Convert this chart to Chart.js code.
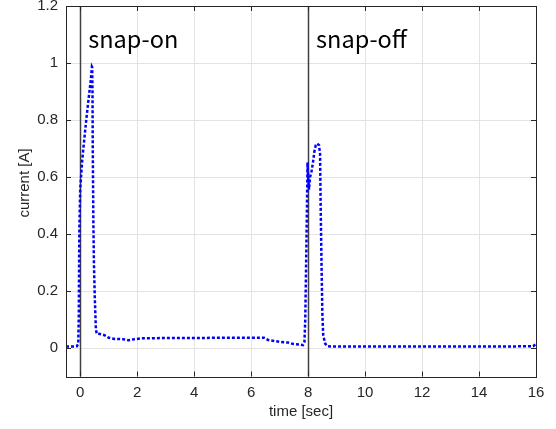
<!DOCTYPE html>
<html>
<head>
<meta charset="utf-8">
<script src="https://cdn.jsdelivr.net/npm/chart.js@4.4.1/dist/chart.umd.min.js"></script>
<style>
  html, body { margin: 0; padding: 0; background: #ffffff; }
  #wrap { width: 556px; height: 429px; }
</style>
</head>
<body>
<div id="wrap"><canvas id="currentChart" width="556" height="429"></canvas></div>
<script>
// measured current during snap-on / snap-off
const timeSec = [
  -0.5, -0.3, -0.12, -0.07, -0.05, -0.04, -0.03, 0.0, 0.07, 0.14, 0.21, 0.3, 0.37, 0.41,
  0.42, 0.43, 0.44, 0.46, 0.48, 0.51, 0.55, 0.58, 0.7, 0.85, 1.0, 1.2, 1.5, 1.7, 1.9, 2.2,
  3.0, 4.0, 5.0, 6.0, 6.45, 6.6, 7.0, 7.3, 7.45, 7.7, 7.82,
  7.87, 7.9, 7.93, 7.96, 7.98, 8.0, 8.03, 8.07, 8.12, 8.17, 8.22, 8.27, 8.32, 8.38, 8.42,
  8.44, 8.47, 8.5, 8.53, 8.6, 8.69, 9.0, 10.0, 12.0, 14.0, 15.9, 16.0
];
const currentA = [
  0.005, 0.005, 0.006, 0.015, 0.12, 0.3, 0.42, 0.56, 0.66, 0.73, 0.8, 0.88, 0.94, 0.987,
  0.985, 0.9, 0.7, 0.45, 0.3, 0.18, 0.065, 0.05, 0.049, 0.045, 0.036, 0.032, 0.031, 0.027, 0.031, 0.034,
  0.035, 0.035, 0.036, 0.036, 0.036, 0.028, 0.022, 0.019, 0.015, 0.012, 0.01,
  0.02, 0.1, 0.3, 0.5, 0.652, 0.6, 0.556, 0.6, 0.62, 0.65, 0.69, 0.712, 0.717, 0.712, 0.68,
  0.5, 0.3, 0.12, 0.045, 0.015, 0.006, 0.005, 0.005, 0.005, 0.005, 0.006, 0.015
];

const eventTimes = [0, 8];
const eventLabels = ["snap-on", "snap-off"];

const xTicks = [0, 2, 4, 6, 8, 10, 12, 14, 16];
const yTicks = [0, 0.2, 0.4, 0.6, 0.8, 1, 1.2];

const axisFont = "'Liberation Sans', Arial, sans-serif";
const noteFont = "'Noto Sans CJK JP', 'Noto Sans', sans-serif";
const axisColor = "#262626";

const points = timeSec.map((t, i) => ({ x: t, y: currentA[i] }));

// frame, inward ticks, event lines, labels
const matlabAxes = {
  id: "matlabAxes",
  beforeDatasetsDraw(chart) {
    const { ctx, chartArea: a, scales } = chart;
    ctx.save();
    ctx.strokeStyle = "#404040";
    ctx.lineWidth = 1.5;
    eventTimes.forEach((t) => {
      const px = Math.round(scales.x.getPixelForValue(t)) + 0.5;
      ctx.beginPath();
      ctx.moveTo(px, a.top);
      ctx.lineTo(px, a.bottom);
      ctx.stroke();
    });
    ctx.restore();
  },
  afterDraw(chart) {
    const { ctx, chartArea: a, scales } = chart;
    ctx.save();
    ctx.strokeStyle = axisColor;
    ctx.lineWidth = 1;
    ctx.strokeRect(Math.round(a.left) + 0.5, Math.round(a.top) + 0.5,
      Math.round(a.right - a.left), Math.round(a.bottom - a.top));
    const tl = 5;
    ctx.beginPath();
    xTicks.forEach((v) => {
      const px = Math.round(scales.x.getPixelForValue(v)) + 0.5;
      ctx.moveTo(px, a.bottom); ctx.lineTo(px, a.bottom - tl);
      ctx.moveTo(px, a.top); ctx.lineTo(px, a.top + tl);
    });
    yTicks.forEach((v) => {
      const py = Math.round(scales.y.getPixelForValue(v)) + 0.5;
      ctx.moveTo(a.left, py); ctx.lineTo(a.left + tl, py);
      ctx.moveTo(a.right, py); ctx.lineTo(a.right - tl, py);
    });
    ctx.stroke();

    // event annotations
    ctx.fillStyle = "#000000";
    ctx.font = "23.5px " + noteFont;
    ctx.textBaseline = "middle";
    ctx.textAlign = "left";
    eventTimes.forEach((t, i) => {
      const px = scales.x.getPixelForValue(t);
      ctx.fillText(eventLabels[i], px + 8, a.top + 33);
    });

    // y axis title (sits a little above the axes centre, like the original)
    ctx.fillStyle = axisColor;
    ctx.font = "15px " + axisFont;
    ctx.textAlign = "center";
    ctx.translate(25, 183);
    ctx.rotate(-Math.PI / 2);
    ctx.fillText("current [A]", 0, 0);
    ctx.restore();
  }
};

new Chart(document.getElementById("currentChart"), {
  type: "scatter",
  data: {
    datasets: [
      {
        data: points,
        showLine: true,
        borderColor: "#0000ff",
        borderWidth: 2.5,
        borderDash: [3, 2],
        pointRadius: 0,
        tension: 0,
      },
    ],
  },
  options: {
    responsive: false,
    animation: false,
    layout: { padding: { top: 6, right: 20, left: 0, bottom: 0 } },
    plugins: {
      legend: { display: false },
      tooltip: { enabled: false },
    },
    scales: {
      x: {
        type: "linear",
        min: -0.5,
        max: 16,
        afterBuildTicks: (scale) => { scale.ticks = xTicks.map((v) => ({ value: v })); },
        afterFit: (scale) => {
          scale.height = 52.5;
          scale.paddingLeft = 0;
          scale.paddingRight = 0;
        },
        grid: { color: "#e3e3e3", drawTicks: false },
        border: { display: false },
        ticks: {
          padding: 7,
          color: axisColor,
          font: { family: axisFont, size: 15 },
          callback: (v) => String(v),
        },
        title: {
          display: true,
          text: "time [sec]",
          color: axisColor,
          font: { family: axisFont, size: 15 },
          padding: { top: 0, bottom: 8 },
        },
      },
      y: {
        type: "linear",
        min: -0.1,
        max: 1.2,
        afterBuildTicks: (scale) => { scale.ticks = yTicks.map((v) => ({ value: v })); },
        afterFit: (scale) => {
          scale.width = 66;
          scale.paddingTop = 0;
          scale.paddingBottom = 0;
        },
        grid: { color: "#e3e3e3", drawTicks: false },
        border: { display: false },
        ticks: {
          padding: 8,
          color: axisColor,
          font: { family: axisFont, size: 15 },
          callback: (v) => String(v),
        },
      },
    },
  },
  plugins: [matlabAxes],
});
</script>
</body>
</html>
